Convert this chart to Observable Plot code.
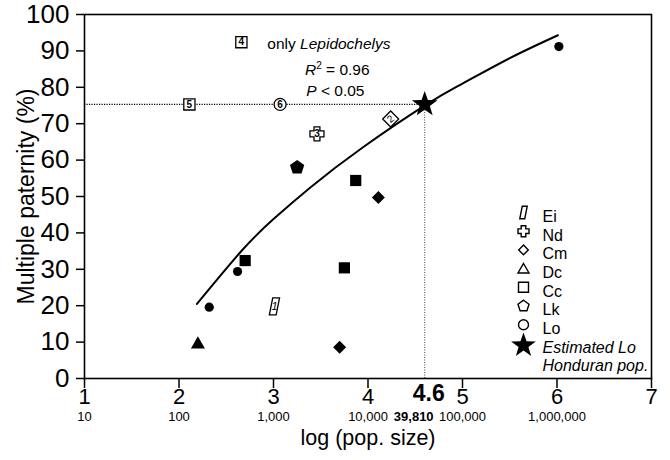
<!DOCTYPE html>
<html>
<head>
<meta charset="utf-8">
<script src="https://cdn.jsdelivr.net/npm/d3@7"></script>
<script src="https://cdn.jsdelivr.net/npm/@observablehq/plot@0.6"></script>
<style>
  html, body { margin: 0; padding: 0; background: #fff; }
  #chart { width: 670px; height: 460px; }
  svg { font-family: "Liberation Sans", Arial, sans-serif; }
</style>
</head>
<body>
<div id="chart"></div>
<script>
// ---------- data ----------
const xTicks = [1, 2, 3, 4, 5, 6, 7];
const popLabels = ["10", "100", "1,000", "10,000", "100,000", "1,000,000", ""];
const yTicks = [0, 10, 20, 30, 40, 50, 60, 70, 80, 90, 100];

// fitted curve
const curveLogN = [2.19, 2.67, 3.0, 3.39, 3.94, 4.62, 5.0, 5.5, 6.01];
const curvePct  = [20.5, 35.3, 43.8, 52.5, 63.4, 75.3, 81.0, 88.0, 94.3];

// filled symbols (all species)
const filledSpecies = ["Lo", "Lo", "Lo", "Cc", "Cc", "Cc", "Cm", "Cm", "Dc", "Lk"];
const filledLogN    = [2.32, 2.62, 6.02, 2.70, 3.87, 3.75, 4.11, 3.70, 2.20, 3.25];
const filledPct     = [19.6, 29.4, 91.2, 32.4, 54.4, 30.4, 49.7, 8.6, 9.8, 58.0];

// open numbered symbols
const numLabels  = ["1", "2", "3", "4", "5", "6"];
const numSpecies = ["Ei", "Cm", "Nd", "Cc", "Cc", "Lo"];
const numLogN    = [3.01, 4.24, 3.46, 2.66, 2.11, 3.07];
const numPct     = [19.8, 71.3, 67.2, 92.4, 75.3, 75.3];

// estimated Lo Honduran population
const starLogN = [4.6];
const starPct = [75.3];
const starTickLabel = ["4.6"];
const starPopLabel = ["39,810"];

const legendSpecies = ["Ei", "Nd", "Cm", "Dc", "Cc", "Lk", "Lo"];
const legendStarLines = ["Estimated Lo", "Honduran pop."];

// ---------- custom symbols (r = half size in px) ----------
const R = size => Math.sqrt(size / Math.PI);
const sym = {
  circle: { draw(c, s) { const r = R(s); c.moveTo(r, 0); c.arc(0, 0, r, 0, 2 * Math.PI); } },
  square: { draw(c, s) { const r = R(s); c.rect(-r, -r, 2 * r, 2 * r); } },
  diamond: { draw(c, s) { const r = R(s); c.moveTo(0, -r); c.lineTo(r, 0); c.lineTo(0, r); c.lineTo(-r, 0); c.closePath(); } },
  triangle: { draw(c, s) { const r = R(s); c.moveTo(0, -0.93 * r); c.lineTo(r, 0.8 * r); c.lineTo(-r, 0.8 * r); c.closePath(); } },
  pentagon: { draw(c, s) { const r = R(s); for (let i = 0; i < 5; i++) { const a = -Math.PI / 2 + i * 2 * Math.PI / 5; const x = r * Math.cos(a), y = r * Math.sin(a); i ? c.lineTo(x, y) : c.moveTo(x, y); } c.closePath(); } },
  para: { draw(c, s) { const r = R(s); const w = 0.4 * r, k = 0.2 * r; c.moveTo(-w + k, -r); c.lineTo(w + k, -r); c.lineTo(w - k, r); c.lineTo(-w - k, r); c.closePath(); } },
  cross: { draw(c, s) { const r = R(s); const a = 0.42 * r; const p = [[-a,-r],[a,-r],[a,-a],[r,-a],[r,a],[a,a],[a,r],[-a,r],[-a,a],[-r,a],[-r,-a],[-a,-a]]; p.forEach(([x, y], i) => i ? c.lineTo(x, y) : c.moveTo(x, y)); c.closePath(); } },
  star: { draw(c, s) { const r = R(s); const ri = r * 0.4; for (let i = 0; i < 10; i++) { const a = -Math.PI / 2 + i * Math.PI / 5; const rr = i % 2 ? ri : r; const x = rr * Math.cos(a), y = rr * Math.sin(a); i ? c.lineTo(x, y) : c.moveTo(x, y); } c.closePath(); } }
};
const speciesSymbol = { Ei: sym.para, Nd: sym.cross, Cm: sym.diamond, Dc: sym.triangle, Cc: sym.square, Lk: sym.pentagon, Lo: sym.circle };
const filledR = { Lo: 4.6, Cc: 5.6, Cm: 6.5, Dc: 7, Lk: 7.5 };
const numR = { Ei: 8.5, Cm: 8, Nd: 7, Cc: 5.6, Lo: 6 };
const legendR = { Ei: 6.2, Nd: 5.5, Cm: 4.8, Dc: 5.5, Cc: 5, Lk: 5.8, Lo: 5 };

// ---------- tables ----------
const curve = curveLogN.map((x, i) => ({ x, y: curvePct[i] }));
const filled = filledSpecies.map((s, i) => ({ s, x: filledLogN[i], y: filledPct[i] }));
const numbered = numLabels.map((t, i) => ({ t, s: numSpecies[i], x: numLogN[i], y: numPct[i] }));
const star = starLogN.map((x, i) => ({ x, y: starPct[i] }));

const W = 670, H = 460, mL = 84, mR = 19, mT = 14, mB = 82;
const ink = "#000";

const marks = [];
// reference dotted lines
marks.push(Plot.ruleY(star, { y: "y", x1: 1, x2: "x", stroke: ink, strokeWidth: 1.4, strokeDasharray: "1.2,1.3" }));
marks.push(Plot.ruleX(star, { x: "x", y1: 0, y2: "y", stroke: "#444", strokeWidth: 1, strokeDasharray: "1,1.5" }));
// curve
marks.push(Plot.line(curve, { x: "x", y: "y", curve: "natural", stroke: ink, strokeWidth: 2 }));
// filled symbols per species
for (const s of Object.keys(filledR)) {
  marks.push(Plot.dot(filled.filter(d => d.s === s), { x: "x", y: "y", symbol: speciesSymbol[s], r: filledR[s], fill: ink, stroke: "none" }));
}
// numbered open symbols
for (const s of Object.keys(numR)) {
  marks.push(Plot.dot(numbered.filter(d => d.s === s), { x: "x", y: "y", symbol: speciesSymbol[s], r: numR[s], fill: "white", stroke: ink, strokeWidth: 1.3 }));
}
marks.push(Plot.text(numbered.filter(d => d.s !== "Cm" && d.s !== "Ei"), { x: "x", y: "y", text: "t", fontSize: 10, fill: ink, fontWeight: "bold" }));
marks.push(Plot.text(numbered.filter(d => d.s === "Cm"), { x: "x", y: "y", text: "t", fontSize: 10, fill: ink, rotate: -40 }));
marks.push(Plot.text(numbered.filter(d => d.s === "Ei"), { x: "x", y: "y", text: "t", fontSize: 11, fill: ink, fontStyle: "italic" }));
// star
marks.push(Plot.dot(star, { x: "x", y: "y", symbol: sym.star, r: 13.5, fill: ink, stroke: "none" }));

// frame and axes
marks.push(Plot.frame({ stroke: ink, strokeWidth: 1.6 }));
marks.push(Plot.axisY({ ticks: yTicks, tickSize: 8, tickPadding: 7, fontSize: 26, label: null, tickFormat: d => String(d), stroke: ink, strokeWidth: 1.5 }));
marks.push(Plot.axisX({ ticks: xTicks, tickSize: 10, tickPadding: 0, fontSize: 22, label: null, tickFormat: d => String(d), stroke: ink, strokeWidth: 1.5 }));
marks.push(Plot.axisX({ ticks: xTicks, tickSize: 0, tickPadding: 33, fontSize: 13, label: null, tickFormat: d => popLabels[xTicks.indexOf(d)] }));
marks.push(Plot.text(star, { x: "x", frameAnchor: "bottom", text: () => starTickLabel[0], lineAnchor: "top", dy: 6, dx: 4, fontSize: 23, fontWeight: "bold", fill: ink }));
marks.push(Plot.text(star, { x: "x", frameAnchor: "bottom", text: () => starPopLabel[0], lineAnchor: "top", dy: 33, dx: -11, fontSize: 13, fontWeight: "bold", fill: ink }));
// axis titles
marks.push(Plot.text(["log (pop. size)"], { frameAnchor: "bottom", text: d => d, textAnchor: "middle", dy: 66, fontSize: 21.5, fill: ink }));
marks.push(Plot.text(["Multiple paternity (%)"], { frameAnchor: "left", text: d => d, textAnchor: "middle", rotate: -90, dx: -58, fontSize: 23, fill: ink }));

// legend (inside frame, top-left anchored offsets)
const legX = 523 - mL, legTextX = 542 - mL, legY0 = 212 - mT, legStep = 18.7;
legendSpecies.forEach((s, i) => {
  marks.push(Plot.dot([s], { frameAnchor: "top-left", dx: legX, dy: legY0 + i * legStep, symbol: speciesSymbol[s], r: legendR[s], fill: "white", stroke: ink, strokeWidth: 1.4 }));
  marks.push(Plot.text([s], { frameAnchor: "top-left", text: d => d, dx: legTextX, dy: legY0 - 2 + i * legStep, textAnchor: "start", fontSize: 16, fill: ink }));
});
marks.push(Plot.dot(["star"], { frameAnchor: "top-left", dx: legX, dy: legY0 + 7 * legStep + 2, symbol: sym.star, r: 13, fill: ink }));
legendStarLines.forEach((t, i) => {
  marks.push(Plot.text([t], { frameAnchor: "top-left", text: d => d, dx: legTextX, dy: legY0 - 2 + (7 + i) * legStep, textAnchor: "start", fontSize: 16, fontStyle: "italic", fill: ink }));
});

const plot = Plot.plot({
  width: W, height: H,
  marginLeft: mL, marginRight: mR, marginTop: mT, marginBottom: mB,
  style: { fontFamily: "'Liberation Sans', Arial, sans-serif", background: "white", overflow: "visible" },
  x: { domain: [1, 7] },
  y: { domain: [0, 100] },
  marks
});
document.getElementById("chart").appendChild(plot);

// rich-text annotations (mixed italics) placed through the plot scales
const svg = plot.tagName.toLowerCase() === "svg" ? plot : plot.querySelector("svg");
const xs = plot.scale("x"), ys = plot.scale("y");
const g = d3.select(svg).append("g").attr("font-family", "'Liberation Sans', Arial, sans-serif").attr("font-size", 15.5).attr("fill", ink);
const t1 = g.append("text").attr("text-anchor", "start").attr("x", xs.apply(2.94)).attr("y", ys.apply(91.8)).attr("dy", "0.35em");
t1.append("tspan").text("only ");
t1.append("tspan").attr("font-style", "italic").text("Lepidochelys");
const t2 = g.append("text").attr("text-anchor", "middle").attr("x", xs.apply(3.68)).attr("y", ys.apply(84.7)).attr("dy", "0.35em");
t2.append("tspan").attr("font-style", "italic").text("R");
t2.append("tspan").attr("font-size", 10).attr("dy", "-0.6em").text("2");
t2.append("tspan").attr("dy", "0.4em").text(" = 0.96");
const t3 = g.append("text").attr("text-anchor", "middle").attr("x", xs.apply(3.66)).attr("y", ys.apply(79.1)).attr("dy", "0.35em");
t3.append("tspan").attr("font-style", "italic").text("P");
t3.append("tspan").text(" < 0.05");
</script>
</body>
</html>
